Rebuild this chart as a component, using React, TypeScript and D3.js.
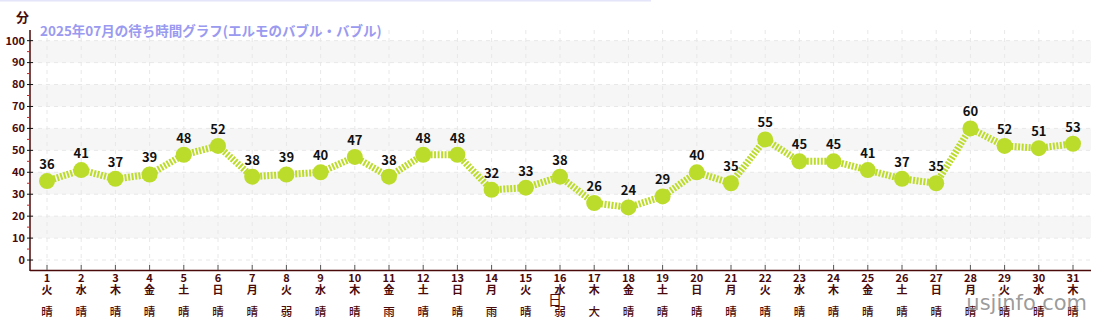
import React from "react";
import * as d3 from "d3";

const days = [1,2,3,4,5,6,7,8,9,10,11,12,13,14,15,16,17,18,19,20,21,22,23,24,25,26,27,28,29,30,31];
const weekdays = ["火","水","木","金","土","日","月","火","水","木","金","土","日","月","火","水","木","金","土","日","月","火","水","木","金","土","日","月","火","水","木"];
const weather = ["晴","晴","晴","晴","晴","晴","晴","弱雨","晴","晴","雨","晴","晴","雨","晴","弱雨","大雨","晴","晴","晴","晴","晴","晴","晴","晴","晴","晴","晴","晴","晴","晴"];
const waits = [36,41,37,39,48,52,38,39,40,47,38,48,48,32,33,38,26,24,29,40,35,55,45,45,41,37,35,60,52,51,53];
const yTicks = [0,10,20,30,40,50,60,70,80,90,100];
const title = "2025年07月の待ち時間グラフ(エルモのバブル・バブル)";

const W = 1100, H = 320;
const FONT = "'Noto Sans CJK JP', 'Noto Sans', sans-serif";
const AX = "#4a0a0a";

export default function App() {
  const x = d3.scaleLinear().domain([1, 31]).range([47, 1073]);
  const y = d3.scaleLinear().domain([-5, 105]).range([271, 29.7]);
  const left = 30, right = 1091;
  const line = d3.line<number>().x((_, i) => x(days[i])).y(d => y(d));
  const minor = d3.range(5, 100, 10);
  const bands = [[90,100],[70,80],[50,60],[30,40],[10,20]];

  return (
    <svg width={W} height={H} style={{ position: "absolute", left: 0, top: 0, display: "block" }} fontFamily={FONT}>
      <line x1={0} x2={651} y1={0.5} y2={0.5} stroke="#e4e4fa" strokeWidth={2} />
      {bands.map(([a, b]) => (
        <rect key={a} x={left} width={right - left} y={y(b)} height={y(a) - y(b)} fill="#f6f6f6" />
      ))}
      {yTicks.map(t => (
        <line key={"g" + t} x1={left} x2={right} y1={y(t)} y2={y(t)} stroke="#e8e8e8" strokeDasharray="4,4" />
      ))}
      {days.map(d => (
        <line key={"v" + d} x1={x(d)} x2={x(d)} y1={30} y2={270} stroke="#e8e8e8" strokeDasharray="4,4" />
      ))}
      <text x={16} y={22} fontSize={13} fontWeight="bold" fill={AX}>分</text>
      <text x={40} y={36} fontSize={13.5} fontWeight="bold" fill="#9a9af0">{title}</text>
      {/* y axis */}
      <line x1={left} x2={left} y1={30} y2={271} stroke={AX} strokeWidth={1.5} />
      {minor.map(t => (
        <line key={"m" + t} x1={left - 3} x2={left} y1={y(t)} y2={y(t)} stroke="#d02020" />
      ))}
      {yTicks.map(t => (
        <g key={"t" + t}>
          <line x1={left - 3} x2={left + 3} y1={y(t)} y2={y(t)} stroke="#111" />
          <text x={left - 5} y={y(t)} dy="0.35em" textAnchor="end" fontSize={11} fontWeight="bold" fill={AX}>{t}</text>
        </g>
      ))}
      {/* x axis */}
      <line x1={left} x2={right} y1={270.5} y2={270.5} stroke={AX} strokeWidth={1.5} />
      {days.map((d, i) => (
        <g key={"x" + d}>
          <line x1={x(d)} x2={x(d)} y1={265} y2={270} stroke="#555" />
          <text x={x(d)} y={282} textAnchor="middle" fontSize={11} fontWeight="bold" fill={AX}>{d}</text>
          <text x={x(d)} y={294} textAnchor="middle" fontSize={11} fontWeight="bold" fill={AX}>{weekdays[i]}</text>
          {weather[i].split("").map((c, k) => (
            <text key={k} x={x(d)} y={316 + k * 13} textAnchor="middle" fontSize={11.5} fontWeight={500} fill={AX}>{c}</text>
          ))}
        </g>
      ))}
      <text x={555} y={305} textAnchor="middle" fontSize={14} fill={AX}>日</text>
      {/* series */}
      <path d={line(waits) || ""} fill="none" stroke="#bcdc2c" strokeWidth={7} strokeDasharray="2,1.5" />
      {waits.map((v, i) => (
        <circle key={"c" + i} cx={x(days[i])} cy={y(v)} r={8} fill="#bcdc2c" />
      ))}
      {waits.map((v, i) => (
        <text key={"l" + i} x={x(days[i])} y={y(v) - 12} textAnchor="middle" fontSize={13} fontWeight="bold" fill="#111">{v}</text>
      ))}
      <text x={1087} y={310} textAnchor="end" fontSize={21} fill="#8a8a8a" fillOpacity={0.85} fontFamily="'DejaVu Sans', sans-serif">usjinfo.com</text>
    </svg>
  );
}
